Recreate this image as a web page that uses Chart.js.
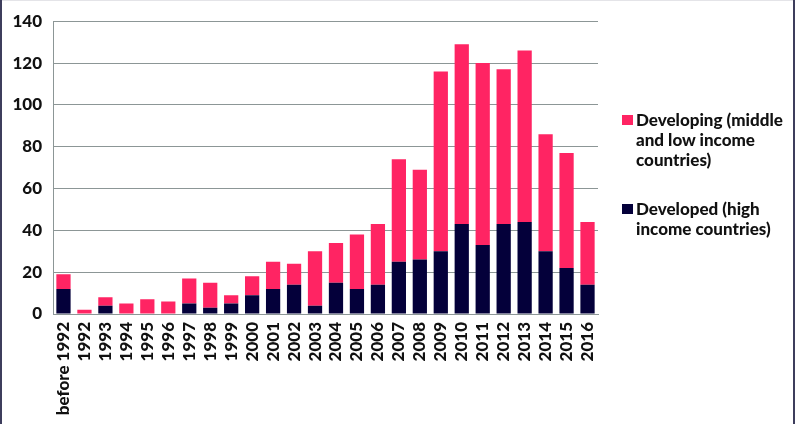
<!DOCTYPE html>
<html>
<head>
<meta charset="utf-8">
<script src="https://cdn.jsdelivr.net/npm/chart.js@4"></script>
<style>
  html, body { margin:0; padding:0; background:#fff; }
  #wrap { position:relative; width:803px; height:424px; overflow:hidden; }
  canvas { position:absolute; left:0; top:0; }
  .frameL { position:absolute; left:0; top:0; width:2px; height:424px; background:#3d3d5c; }
  .frameR { position:absolute; left:793px; top:0; width:2px; height:424px; background:#3d3d5c; }
  .frameT { position:absolute; left:0; top:0; width:795px; height:1px; background:#e4e4e8; }
  .legend { position:absolute; left:622px; font-family:Lato, "DejaVu Sans", sans-serif; font-weight:900; font-size:17px; line-height:20px; color:#111; }
  .legend .item { position:absolute; left:0; white-space:nowrap; }
  .legend .box { position:absolute; left:0; top:5px; width:11px; height:10px; }
  .legend .txt { position:absolute; left:14px; top:0; }
</style>
</head>
<body>
<div id="wrap">
  <canvas id="c" width="803" height="424"></canvas>
  <div class="frameT"></div>
  <div class="frameL"></div>
  <div class="frameR"></div>
  <div class="legend" id="legend"></div>
</div>
<script>
const categories = ["before 1992","1992","1993","1994","1995","1996","1997","1998","1999","2000","2001","2002","2003","2004","2005","2006","2007","2008","2009","2010","2011","2012","2013","2014","2015","2016"];
const developed  = [12, 0, 4, 0, 0, 0, 5, 3, 5, 9, 12, 14, 4, 15, 12, 14, 25, 26, 30, 43, 33, 43, 44, 30, 22, 14];
const developing = [7, 2, 4, 5, 7, 6, 12, 12, 4, 9, 13, 10, 26, 19, 26, 29, 49, 43, 86, 86, 87, 74, 82, 56, 55, 30];
const yTicks = [0, 20, 40, 60, 80, 100, 120, 140];
const seriesNames = ["Developing (middle\nand low income\ncountries)", "Developed (high\nincome countries)"];
const colors = { developing: "#ff2463", developed: "#04003a" };

const FONT = "Lato, 'DejaVu Sans', sans-serif";

new Chart(document.getElementById("c"), {
  type: "bar",
  data: {
    labels: categories,
    datasets: [
      { label: seriesNames[1], data: developed, backgroundColor: colors.developed, stack: "s", barPercentage: 0.68, categoryPercentage: 1.0 },
      { label: seriesNames[0], data: developing, backgroundColor: colors.developing, stack: "s", barPercentage: 0.68, categoryPercentage: 1.0 }
    ]
  },
  options: {
    responsive: false,
    animation: false,
    layout: { padding: { top: 19, right: 205, left: 0, bottom: 0 } },
    plugins: { legend: { display: false }, tooltip: { enabled: false } },
    scales: {
      x: {
        stacked: true,
        grid: { display: false, drawTicks: false },
        border: { display: true, color: "#8c9696", width: 1 },
        ticks: { color: "#111", font: { family: FONT, weight: "900", size: 17 }, maxRotation: 90, minRotation: 90, padding: 8, autoSkip: false },
        afterFit: (s) => { s.height = 110; }
      },
      y: {
        stacked: true,
        min: 0, max: 140,
        afterBuildTicks: (s) => { s.ticks = yTicks.map(v => ({ value: v })); },
        grid: { color: "#8c9696", lineWidth: 1, drawTicks: false },
        border: { display: true, color: "#8c9696", width: 1 },
        ticks: { color: "#111", font: { family: FONT, weight: "900", size: 17 }, padding: 11 },
        afterFit: (s) => { s.width = 53; }
      }
    }
  }
});

// HTML legend (multi-line labels)
const legend = document.getElementById("legend");
const items = [
  { name: seriesNames[0], color: colors.developing, top: 110 },
  { name: seriesNames[1], color: colors.developed, top: 199 }
];
items.forEach(it => {
  const d = document.createElement("div");
  d.className = "item";
  d.style.top = it.top + "px";
  const b = document.createElement("div");
  b.className = "box"; b.style.background = it.color;
  const t = document.createElement("div");
  t.className = "txt";
  t.innerHTML = it.name.split("\n").join("<br>");
  d.appendChild(b); d.appendChild(t);
  legend.appendChild(d);
});
legend.style.top = "0px";
</script>
</body>
</html>
